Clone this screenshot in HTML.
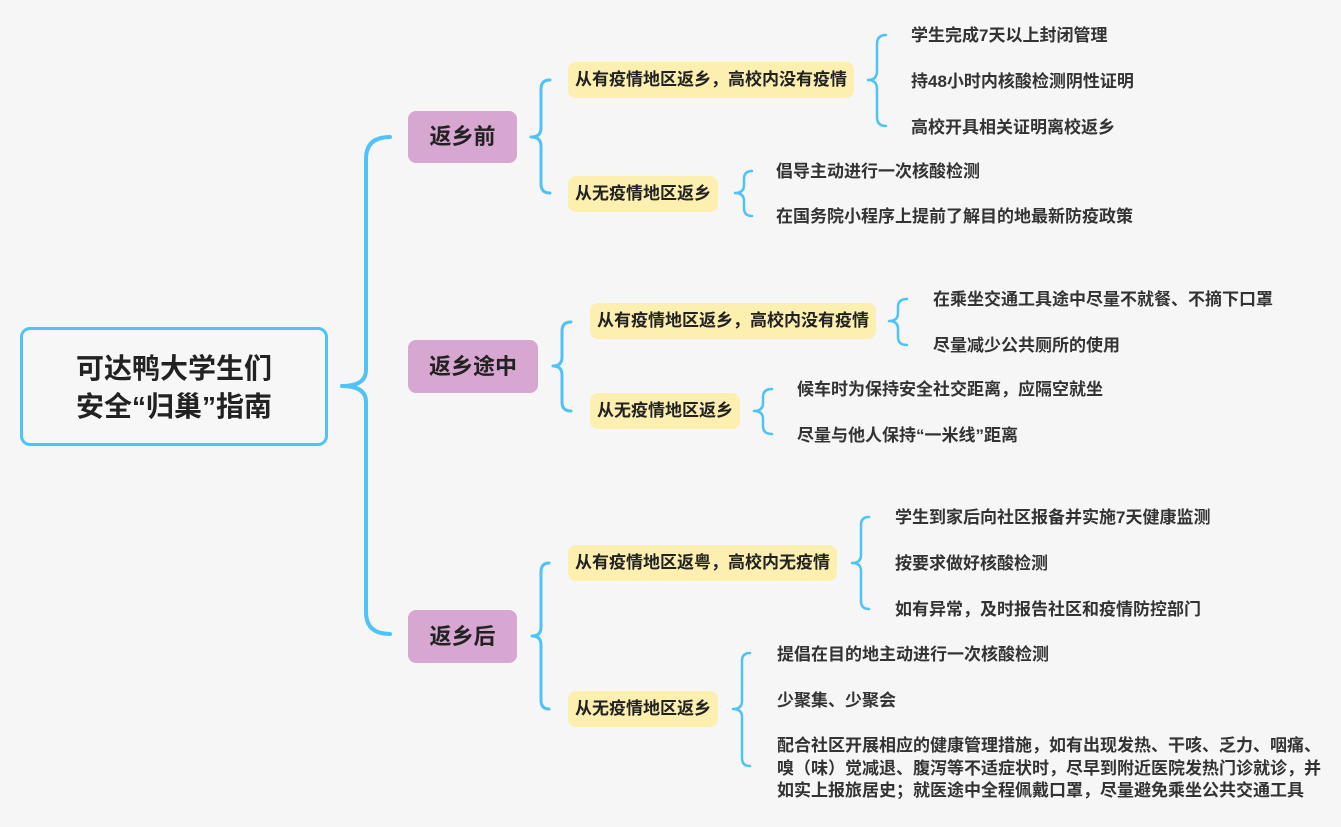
<!DOCTYPE html>
<html>
<head>
<meta charset="utf-8">
<style>
  html,body{margin:0;padding:0;}
  body{width:1341px;height:827px;background:#f6f6f6;position:relative;overflow:hidden;
    font-family:"Liberation Sans","Noto Sans CJK SC",sans-serif;}
  .abs{position:absolute;}
  .center{left:20px;top:327px;width:302px;height:113px;border:3px solid #4fc3f7;border-radius:10px;background:#f7f7f7;}
  .ctext{position:absolute;left:20px;width:308px;text-align:center;font-size:28px;font-weight:700;color:#222;line-height:38px;white-space:nowrap;}
  .p{position:absolute;background:#d7a7d1;border-radius:8px;color:#222;font-size:22px;font-weight:700;text-align:center;white-space:nowrap;}
  .y{position:absolute;background:#fcefb0;border-radius:8px;color:#222;font-size:17px;font-weight:700;height:36px;line-height:36px;padding:0 7px;white-space:nowrap;}
  .l{position:absolute;color:#333;font-size:17px;font-weight:700;line-height:24px;white-space:nowrap;}
  svg{position:absolute;left:0;top:0;}
</style>
</head>
<body>
<svg width="1341" height="827" viewBox="0 0 1341 827" fill="none" stroke="#4fc3f7" stroke-linecap="round" stroke-linejoin="round">
  <path stroke-width="4" d="M390 137 Q366 137 366 159 L366 370 Q366 386 342 386 Q366 386 366 402 L366 612 Q366 634 390 634"/>
  <path stroke-width="3" d="M550 80 Q541 80 541 89 L541 128 Q541 137 531 137 Q541 137 541 146 L541 184 Q541 193 550 193"/>
  <path stroke-width="2.5" d="M886 35 Q877 35 877 44 L877 71 Q877 80 868 80 Q877 80 877 89 L877 117 Q877 126 886 126"/>
  <path stroke-width="2.5" d="M752 171 Q744 171 744 179 L744 185 Q744 193 735 193 Q744 193 744 201 L744 208 Q744 216 752 216"/>
  <path stroke-width="3" d="M571 322 Q562 322 562 331 L562 357 Q562 366 553 366 Q562 366 562 375 L562 402 Q562 411 571 411"/>
  <path stroke-width="2.5" d="M907 299 Q898 299 898 307 L898 313 Q898 321 889 321 Q898 321 898 329 L898 337 Q898 345 907 345"/>
  <path stroke-width="2.5" d="M772 389 Q763 389 763 397 L763 403 Q763 411 754 411 Q763 411 763 419 L763 426 Q763 434 772 434"/>
  <path stroke-width="3" d="M549 563 Q541 563 541 572 L541 627 Q541 636 532 636 Q541 636 541 645 L541 700 Q541 709 549 709"/>
  <path stroke-width="2.5" d="M869 517 Q861 517 861 525 L861 555 Q861 563 852 563 Q861 563 861 571 L861 601 Q861 609 869 609"/>
  <path stroke-width="2.5" d="M750 653 Q742 653 742 661 L742 701 Q742 709 733 709 Q742 709 742 717 L742 758 Q742 766 750 766"/>
</svg>

<div class="abs center"></div>
<div class="ctext" style="top:350px;">可达鸭大学生们</div>
<div class="ctext" style="top:388px;">安全“归巢”指南</div>

<div class="p" style="left:408px;top:111px;width:109px;height:52px;line-height:52px;">返乡前</div>
<div class="p" style="left:408px;top:340px;width:130px;height:53px;line-height:53px;">返乡途中</div>
<div class="p" style="left:408px;top:610px;width:109px;height:53px;line-height:53px;">返乡后</div>

<div class="y" style="left:568px;top:62px;">从有疫情地区返乡，高校内没有疫情</div>
<div class="y" style="left:568px;top:176px;">从无疫情地区返乡</div>
<div class="y" style="left:590px;top:303px;">从有疫情地区返乡，高校内没有疫情</div>
<div class="y" style="left:590px;top:393px;">从无疫情地区返乡</div>
<div class="y" style="left:568px;top:545px;">从有疫情地区返粤，高校内无疫情</div>
<div class="y" style="left:568px;top:691px;">从无疫情地区返乡</div>

<div class="l" style="left:911px;top:24px;">学生完成7天以上封闭管理</div>
<div class="l" style="left:911px;top:70px;">持48小时内核酸检测阴性证明</div>
<div class="l" style="left:911px;top:116px;">高校开具相关证明离校返乡</div>

<div class="l" style="left:776px;top:160px;">倡导主动进行一次核酸检测</div>
<div class="l" style="left:776px;top:205px;">在国务院小程序上提前了解目的地最新防疫政策</div>

<div class="l" style="left:933px;top:288px;">在乘坐交通工具途中尽量不就餐、不摘下口罩</div>
<div class="l" style="left:933px;top:334px;">尽量减少公共厕所的使用</div>

<div class="l" style="left:797px;top:378px;">候车时为保持安全社交距离，应隔空就坐</div>
<div class="l" style="left:797px;top:424px;">尽量与他人保持“一米线”距离</div>

<div class="l" style="left:895px;top:506px;">学生到家后向社区报备并实施7天健康监测</div>
<div class="l" style="left:895px;top:552px;">按要求做好核酸检测</div>
<div class="l" style="left:895px;top:598px;">如有异常，及时报告社区和疫情防控部门</div>

<div class="l" style="left:777px;top:643px;">提倡在目的地主动进行一次核酸检测</div>
<div class="l" style="left:777px;top:689px;">少聚集、少聚会</div>
<div class="l" style="left:777px;top:735px;line-height:22.5px;">配合社区开展相应的健康管理措施，如有出现发热、干咳、乏力、咽痛、<br>嗅（味）觉减退、腹泻等不适症状时，尽早到附近医院发热门诊就诊，并<br>如实上报旅居史；就医途中全程佩戴口罩，尽量避免乘坐公共交通工具</div>
</body>
</html>
